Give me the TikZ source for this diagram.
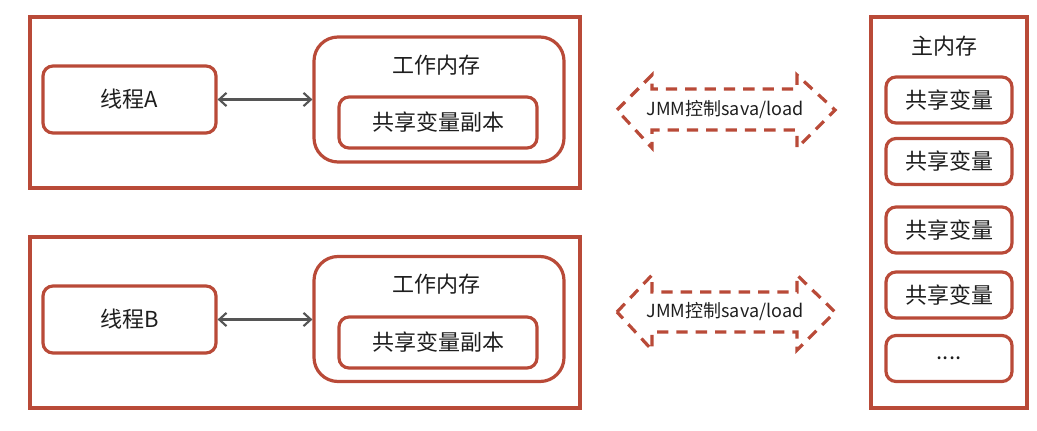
\documentclass[tikz,border=0pt]{standalone}
\usepackage{fontspec}
\setmainfont{Noto Sans CJK SC}
\usetikzlibrary{arrows.meta}
\definecolor{brick}{RGB}{185,74,56}
\definecolor{txt}{RGB}{30,30,30}
\definecolor{conn}{RGB}{85,85,85}
\tikzset{
  outerbox/.style={draw=brick,line width=2.4pt,fill=white,inner sep=0pt},
  roundbox/.style={draw=brick,line width=2.4pt,fill=white,rounded corners=7.5pt,inner sep=0pt,font=\fontsize{16.5}{19}\selectfont,text=txt},
  wmbox/.style={draw=brick,line width=2.4pt,fill=white,rounded corners=18pt,inner sep=0pt},
  title/.style={font=\fontsize{16.5}{19}\selectfont,text=txt,inner sep=0pt},
  link/.style={draw=conn,line width=1.6pt,{Straight Barb[length=5.5pt,width=10pt]}-{Straight Barb[length=5.5pt,width=10pt]}},
  dasharrow/.style={draw=brick,line width=2.4pt,dash pattern=on 8.5pt off 6pt},
  jmm/.style={font=\fontsize{13.5}{16}\selectfont,text=txt,inner sep=0pt}
}
\begin{document}
\begin{tikzpicture}[x=0.75pt,y=-0.75pt]
\useasboundingbox (0,0) rectangle (1037,431);
% thread A
\node[outerbox,minimum width=412.5pt,minimum height=128.25pt] (outA) at (305,102.5) {};
\node[roundbox,minimum width=129.75pt,minimum height=50.25pt] (thA) at (129.5,99.5) {线程A};
\node[wmbox,minimum width=187.5pt,minimum height=93.75pt] (wmA) at (439,99.5) {};
\node[title] (wmAt) at (436,65) {工作内存};
\node[roundbox,minimum width=148.5pt,minimum height=38.25pt] (cpA) at (438,122.5) {共享变量副本};
\draw[link] (thA.east) -- (thA.east -| wmA.west);
% thread B
\node[outerbox,minimum width=412.5pt,minimum height=128.25pt] (outB) at (305,322.5) {};
\node[roundbox,minimum width=129.75pt,minimum height=50.25pt] (thB) at (129.5,319.5) {线程B};
\node[wmbox,minimum width=187.5pt,minimum height=93.75pt] (wmB) at (439,319) {};
\node[title] (wmBt) at (436,284) {工作内存};
\node[roundbox,minimum width=148.5pt,minimum height=38.25pt] (cpB) at (438,342.5) {共享变量副本};
\draw[link] (thB.east) -- (thB.east -| wmB.west);
% main memory
\node[outerbox,minimum width=117pt,minimum height=293.25pt] (mm) at (949,212.5) {};
\node[title] (mmt) at (944,46) {主内存};
\node[roundbox,minimum width=94.5pt,minimum height=34.5pt] (v1) at (949,100) {共享变量};
\node[roundbox,minimum width=94.5pt,minimum height=34.5pt] (v2) at (949,161.5) {共享变量};
\node[roundbox,minimum width=94.5pt,minimum height=34.5pt] (v3) at (949,230) {共享变量};
\node[roundbox,minimum width=94.5pt,minimum height=34.5pt] (v4) at (949,295) {共享变量};
\node[roundbox,minimum width=94.5pt,minimum height=34.5pt] (v5) at (949,358.5) {....};
% JMM arrows
\draw[dasharrow] (617,110) -- (652,75) -- (652,89) -- (797,89) -- (797,75) -- (835,110) -- (797,148) -- (797,130) -- (652,130) -- (652,148) -- cycle;
\node[jmm] (jA) at (725,110) {JMM控制sava/load};
\draw[dasharrow] (617,312) -- (652,275) -- (652,292) -- (797,292) -- (797,275) -- (835,312) -- (797,350) -- (797,332) -- (652,332) -- (652,350) -- cycle;
\node[jmm] (jB) at (725,312) {JMM控制sava/load};
\end{tikzpicture}
\end{document}
